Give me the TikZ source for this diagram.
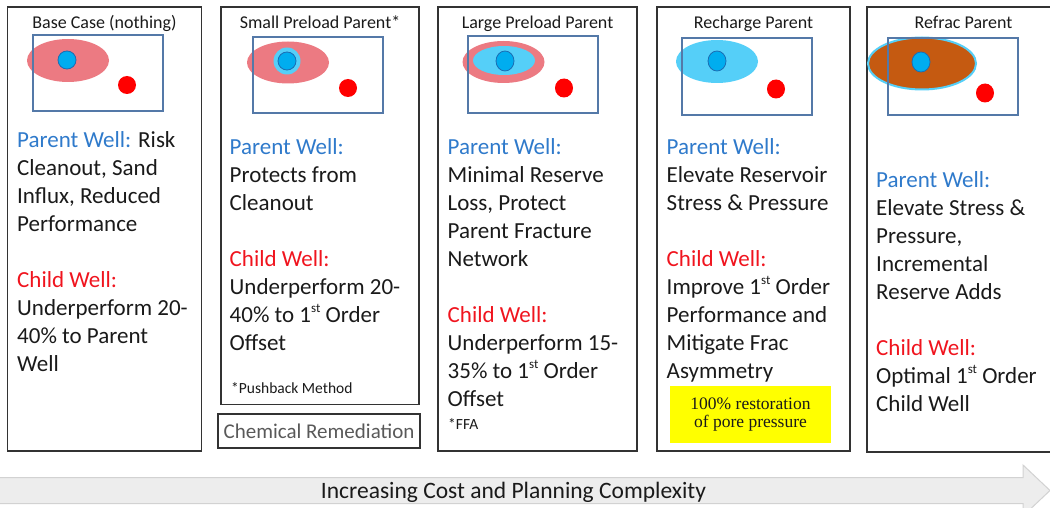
\documentclass[tikz,border=0pt]{standalone}
\usepackage{fontspec}
\setmainfont{Carlito}
\newfontfamily\notefont{Liberation Serif}

\definecolor{ink}{HTML}{1A1A1A}
\definecolor{panelline}{HTML}{333333}
\definecolor{boxblue}{HTML}{5479A8}
\definecolor{pinkzone}{HTML}{EC7A82}
\definecolor{cyanzone}{HTML}{55CFF8}
\definecolor{wellblue}{HTML}{00ADEF}
\definecolor{welledge}{HTML}{1B6DB3}
\definecolor{childred}{HTML}{FF0000}
\definecolor{refracbrown}{HTML}{C55A11}
\definecolor{parentlbl}{HTML}{2F7ACB}
\definecolor{childlbl}{HTML}{F0141E}
\definecolor{chemgray}{HTML}{595959}
\definecolor{notefill}{HTML}{FFFF00}
\definecolor{arrowfill}{HTML}{EDEDED}
\definecolor{arrowline}{HTML}{D2D2D2}

\newcommand\pwlabel{\textcolor{parentlbl}{Parent Well:}}
\newcommand\cwlabel{\textcolor{childlbl}{Child Well:}}
\newcommand\ordsup[1]{\raisebox{0.42em}{\fontsize{13}{13}\selectfont #1}}

\begin{document}
\begin{tikzpicture}[x=1pt,y=-1pt,
  panel/.style={draw=panelline, line width=1.6pt},
  minibox/.style={draw=boxblue, line width=1.1pt},
  wellpt/.style={fill=wellblue, draw=welledge, line width=0.8pt},
  childpt/.style={fill=childred},
  title/.style={anchor=base, inner sep=0pt, text=ink, font=\fontsize{18}{22}\selectfont},
  body/.style={anchor=north west, align=left, inner sep=0pt, text=ink, font=\fontsize{23}{28}\selectfont},
  footnote/.style={anchor=base west, inner sep=0pt, text=ink, font=\fontsize{15.5}{18}\selectfont},
]
\useasboundingbox (0,0) rectangle (1050,508);
\clip (0,0) rectangle (1050,508);

% ---- bottom arrow ----
\path[fill=arrowfill, draw=arrowline, line width=1pt]
  (-5,477.5) -- (1023,477.5) -- (1023,465) -- (1050,490.5)
  -- (1023,516) -- (1023,503.5) -- (-5,503.5) -- cycle;
\node[anchor=base, inner sep=0pt, text=ink, font=\fontsize{23.5}{27}\selectfont]
  (costlabel) at (513.5,498) {Increasing Cost and Planning Complexity};

% ---- panel frames ----
\draw[panel] (7.5,7) rectangle (201.5,451);
\draw[panel] (221,7) rectangle (419,404.5);
\draw[panel] (438,7) rectangle (637,451);
\draw[panel] (657,7) rectangle (850,451);
\draw[panel] (867,7) rectangle (1062,452);
\draw[panel] (218,414) rectangle (420,448);

% ---- titles ----
\node[title] (t1) at (104.5,28.5) {Base Case (nothing)};
\node[title] (t2) at (320,28.5) {Small Preload Parent*};
\node[title] (t3) at (537.5,28.5) {Large Preload Parent};
\node[title] (t4) at (753.5,28.5) {Recharge Parent};
\node[title] (t5) at (963.5,28.5) {Refrac Parent};

% ---- mini maps ----
% base case
\fill[pinkzone] (68,60.5) ellipse [x radius=41, y radius=21.5];
\draw[minibox] (33,35) rectangle (163,111);
\filldraw[wellpt] (67,60) circle [radius=9];
\fill[childpt] (127,85) circle [radius=9];
% small preload
\fill[pinkzone] (288,62.5) ellipse [x radius=41, y radius=21];
\draw[minibox] (253,37) rectangle (383,113);
\fill[cyanzone] (287,61) circle [radius=13.5];
\filldraw[wellpt] (287,61) circle [radius=9];
\fill[childpt] (348,88) circle [radius=9];
% large preload
\fill[pinkzone] (503.5,62) ellipse [x radius=41, y radius=21];
\fill[cyanzone] (504,60.5) ellipse [x radius=31, y radius=14.5];
\draw[minibox] (468,36) rectangle (598,113);
\filldraw[wellpt] (505,61) ellipse [x radius=9, y radius=10];
\fill[childpt] (564,88) ellipse [x radius=9, y radius=9.5];
% recharge
\fill[cyanzone] (717,61.5) ellipse [x radius=41, y radius=21.5];
\draw[minibox] (682,38) rectangle (812,115);
\filldraw[wellpt] (717,61) ellipse [x radius=9, y radius=10];
\fill[childpt] (776,89) ellipse [x radius=9, y radius=9.5];
% refrac
\filldraw[fill=refracbrown, draw=cyanzone, line width=2pt] (922,63.5) ellipse [x radius=54, y radius=26];
\draw[minibox] (888,38) rectangle (1018,115);
\filldraw[wellpt] (921,62) ellipse [x radius=9, y radius=10];
\fill[childpt] (985,93) ellipse [x radius=9, y radius=9.5];

% ---- panel texts ----
\node[body] (b1) at (17,127.4) {\strut\pwlabel{} Risk\\Cleanout, Sand\\Influx, Reduced\\Performance\\[28pt]
  \cwlabel\\Underperform 20-\\40\% to Parent\\Well};
\node[body] (b2) at (229.5,134.4) {\strut\pwlabel\\Protects from\\Cleanout\\[28pt]
  \cwlabel\\Underperform 20-\\40\% to 1\ordsup{st} Order\\Offset};
\node[body] (b3) at (447.5,134.4) {\strut\pwlabel\\Minimal Reserve\\Loss, Protect\\Parent Fracture\\Network\\[28pt]
  \cwlabel\\Underperform 15-\\35\% to 1\ordsup{st} Order\\Offset};
\node[body] (b4) at (666.5,134.4) {\strut\pwlabel\\Elevate Reservoir\\Stress \& Pressure\\[28pt]
  \cwlabel\\Improve 1\ordsup{st} Order\\Performance and\\Mitigate Frac\\Asymmetry};
\node[body] (b5) at (876,167.4) {\strut\pwlabel\\Elevate Stress \&\\Pressure,\\Incremental\\Reserve Adds\\[28pt]
  \cwlabel\\Optimal 1\ordsup{st} Order\\Child Well};

% ---- footnotes ----
\node[footnote] (n2) at (231,393) {*Pushback Method};
\node[footnote] (n3) at (448,429) {*FFA};
\node[inner sep=0pt, text=chemgray, font=\fontsize{21}{25}\selectfont] (chem) at (319,431) {Chemical Remediation};

% ---- pore pressure note ----
\fill[notefill] (670,386) rectangle (831,443);
\node[align=center, inner sep=0pt, text=ink, font=\notefont\fontsize{17.5}{18.5}\selectfont] (pore) at (750.5,414.5)
  {100\% restoration\\of pore pressure};
\end{tikzpicture}
\end{document}
